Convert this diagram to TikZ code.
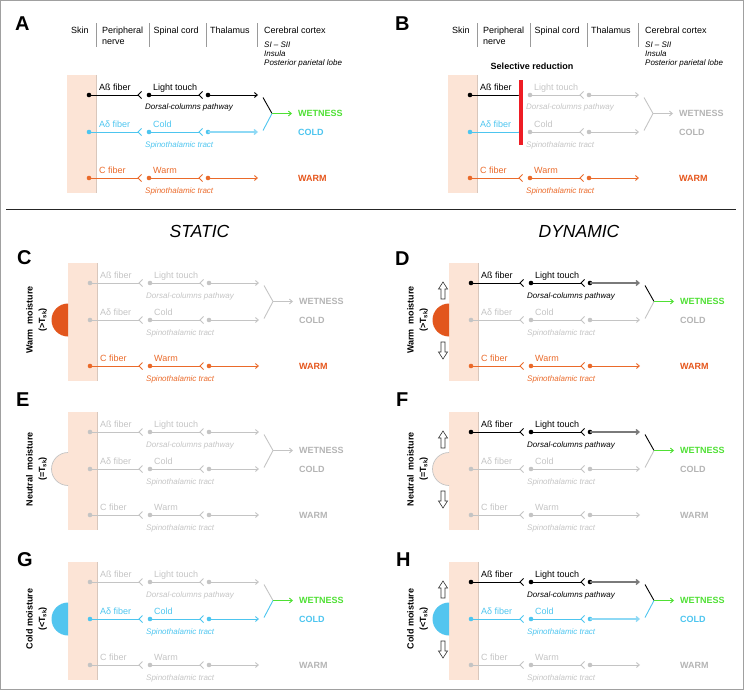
\documentclass[tikz,border=0pt]{standalone}
\usepackage{fontspec}
\setmainfont{Liberation Sans}
\usetikzlibrary{arrows.meta}
\definecolor{cyanC}{HTML}{4DC5EF}
\definecolor{cyanL}{HTML}{8ED9F5}
\definecolor{orangeC}{HTML}{EA6A2A}
\definecolor{orangeO}{HTML}{E5561C}
\definecolor{greyC}{HTML}{C4C4C4}
\definecolor{greyO}{HTML}{B4B4B4}
\definecolor{greenC}{HTML}{4FE034}
\definecolor{skinC}{HTML}{FCE4D6}
\definecolor{skinE}{HTML}{D9C7BC}
\definecolor{warmD}{HTML}{E2561D}
\definecolor{coldD}{HTML}{52C5EF}
\definecolor{barC}{HTML}{EE1C24}
\definecolor{frameC}{HTML}{A0A0A0}
\definecolor{dynG}{HTML}{7A7A7A}
\definecolor{sepC}{HTML}{9A9A9A}

\newcommand\fibrow[8]{%
  \coordinate (#1s1) at (138,#2);
  \coordinate (#1s2) at (199,#2);
  \coordinate (#1e) at (258,#2);
  \node[dot,fill=#3] (#1d0) at (89,#2) {};
  \node[dot,fill=#4] (#1d1) at (149,#2) {};
  \node[dot,fill=#4] (#1d2) at (208,#2) {};
  \draw[ln,draw=#3] (#1d0.center) -- (#1s1);
  \draw[ln,draw=#4] ([shift={(3.5,-3.5)}]#1s1) -- (#1s1) -- ([shift={(3.5,3.5)}]#1s1);
  \draw[ln,draw=#4] (#1d1.center) -- (#1s2);
  \draw[ln,draw=#4] ([shift={(3.5,-3.5)}]#1s2) -- (#1s2) -- ([shift={(3.5,3.5)}]#1s2);
  \draw[arr,draw=#4,#8] (#1d2.center) -- (#1e);
  \node[lab,text=#3] (#1lf) at (99,#2-4.8) {#5};
  \node[lab,text=#4] (#1lt) at (153,#2-4.8) {#6};
  \node[ital,text=#4] (#1lb) at (145,#2+15) {#7};
}

\newcommand\panel[3]{%
\begin{scope}[shift={(#2,#3)}]
  \fill[skinC] (67,-20) rectangle (96,98);
  \draw[skinE,line width=0.7] (96,-20) -- (96,98);
  \fibrow{#1a}{0}{FA}{PA}{Aß fiber}{Light touch}{Dorsal-columns pathway}{lastA}
  \fibrow{#1b}{37}{FB}{PB}{Aδ fiber}{Cold}{Spinothalamic tract}{lastB}
  \fibrow{#1c}{83}{FC}{PC}{C fiber}{Warm}{Spinothalamic tract}{}
  \coordinate (#1ca) at (263,2.5);
  \coordinate (#1cm) at (272,18.5);
  \coordinate (#1cb) at (263,35.5);
  \coordinate (#1ce) at (292,18.5);
  \draw[ln,draw=PA] (#1ca) -- (#1cm);
  \draw[ln,draw=PB] (#1cb) -- (#1cm);
  \draw[arr,draw=WC] (#1cm) -- (#1ce);
  \node[outl,text=OW] (#1ow) at (298,18.5+3.2) {WETNESS};
  \node[outl,text=OC] (#1oc) at (298,37+3.2) {COLD};
  \node[outl,text=OM] (#1om) at (298,83+3.2) {WARM};
\end{scope}}

\newcommand\header[2]{%
\begin{scope}[shift={(#2,0)}]
  \node[hd] (#1h1) at (71,34) {Skin};
  \node[hd] (#1h2) at (102,34) {Peripheral};
  \node[hd] (#1h3) at (102,44.3) {nerve};
  \node[hd] (#1h4) at (153.3,34) {Spinal cord};
  \node[hd] (#1h5) at (210,34) {Thalamus};
  \node[hd] (#1h6) at (264,34) {Cerebral cortex};
  \node[hdi] (#1h7) at (264,47.5) {SI – SII};
  \node[hdi] (#1h8) at (264,56.8) {Insula};
  \node[hdi] (#1h9) at (264,66) {Posterior parietal lobe};
  \foreach \sx in {96,149,206,257} \draw[sepC,line width=0.8] (\sx,23.3) -- (\sx,46.7);
\end{scope}}

\newcommand\drop[4]{%
  \path[fill=#3,draw=#4,line width=0.7] (#1,#2-16.5) arc[start angle=270,end angle=90,radius=16.5];}

\newcommand\blockup[3]{%
  \draw[barrow] (#1,#2) -- (#1+4.5,#2+7) -- (#1+2,#2+7) -- (#1+2,#3) -- (#1-2,#3) -- (#1-2,#2+7) -- (#1-4.5,#2+7) -- cycle;}
\newcommand\blockdown[3]{%
  \draw[barrow] (#1,#2) -- (#1+4.5,#2-7) -- (#1+2,#2-7) -- (#1+2,#3) -- (#1-2,#3) -- (#1-2,#2-7) -- (#1-4.5,#2-7) -- cycle;}

\newcommand\setcols[9]{%
  \colorlet{FA}{#1}\colorlet{PA}{#2}\colorlet{FB}{#3}\colorlet{PB}{#4}%
  \colorlet{FC}{#5}\colorlet{PC}{#6}\colorlet{WC}{#7}\colorlet{OW}{#8}\colorlet{OC}{#9}}

\begin{document}
\begin{tikzpicture}[x=1pt,y=-1pt,
  dot/.style={circle,inner sep=0pt,minimum size=4.6pt},
  ln/.style={line width=0.9pt},
  arr/.style={line width=0.9pt,-{Straight Barb[length=3pt,width=5pt]}},
  lab/.style={anchor=base west,inner sep=0pt,font=\fontsize{9}{10}\selectfont},
  ital/.style={anchor=base west,inner sep=0pt,font=\fontsize{8}{9}\selectfont\itshape},
  outl/.style={anchor=base west,inner sep=0pt,font=\fontsize{9}{10}\selectfont\bfseries},
  hd/.style={anchor=base west,inner sep=0pt,font=\fontsize{9}{10}\selectfont},
  hdi/.style={anchor=base west,inner sep=0pt,font=\fontsize{8}{9}\selectfont\itshape},
  letter/.style={anchor=base west,inner sep=0pt,font=\fontsize{20}{20}\selectfont\bfseries},
  title/.style={anchor=base,inner sep=0pt,font=\fontsize{17.5}{18}\selectfont\itshape},
  moist/.style={rotate=90,align=center,inner sep=0pt,font=\fontsize{9}{12.5}\selectfont\bfseries},
  barrow/.style={draw=black!80,line width=0.6pt,fill=white},
  lastA/.style={}, lastB/.style={}]
\useasboundingbox (0,0) rectangle (744,690);
\draw[frameC,line width=1pt] (0.5,0.5) rectangle (743.5,689.5);
\draw[black!85,line width=0.9pt] (6,209) -- (736,209);

% ---------- A ----------
\node[letter] (LA) at (15,31) {A};
\header{A}{0}
\setcols{black}{black}{cyanC}{cyanC}{orangeC}{orangeC}{greenC}{greenC}{cyanC}\colorlet{OM}{orangeO}
\tikzset{lastA/.style={},lastB/.style={draw=cyanL,line width=1.3pt}}
\panel{A}{0}{95}

% ---------- B ----------
\node[letter] (LB) at (395,31) {B};
\header{B}{381}
\node[anchor=base,inner sep=0pt,font=\fontsize{9}{10}\selectfont\bfseries] (Bsel) at (532,70) {Selective reduction};
\setcols{black}{greyC}{cyanC}{greyC}{orangeC}{orangeC}{greyC}{greyO}{greyO}\colorlet{OM}{orangeO}
\tikzset{lastA/.style={},lastB/.style={}}
\panel{B}{381}{95}
\node[fill=barC,inner sep=0pt,minimum width=4pt,minimum height=65pt] (Bbar) at (521,112.5) {};

% ---------- titles ----------
\node[title] (Tst) at (199.5,237) {STATIC};
\node[title] (Tdy) at (579,237) {DYNAMIC};

% ---------- C ----------
\node[letter] (LC) at (17,264) {C};
\setcols{greyC}{greyC}{greyC}{greyC}{orangeC}{orangeC}{greyC}{greyO}{greyO}\colorlet{OM}{orangeO}
\tikzset{lastA/.style={},lastB/.style={}}
\panel{C}{1}{283}
\drop{68}{320}{warmD}{none}
\node[moist] (Cm) at (36.5,320) {Warm\ \ moisture\\(>T\textsubscript{sk})};

% ---------- D ----------
\node[letter] (LD) at (395,265) {D};
\setcols{black}{black}{greyC}{greyC}{orangeC}{orangeC}{greenC}{greenC}{greyO}\colorlet{OM}{orangeO}
\tikzset{lastA/.style={draw=dynG,line width=1.3pt},lastB/.style={}}
\panel{D}{382}{283}
\drop{449}{320}{warmD}{none}
\blockup{443}{282}{299}
\blockdown{443}{359}{342}
\node[moist] (Dm) at (417.5,320) {Warm\ \ moisture\\(>T\textsubscript{sk})};

% ---------- E ----------
\node[letter] (LE) at (16,406) {E};
\setcols{greyC}{greyC}{greyC}{greyC}{greyC}{greyC}{greyC}{greyO}{greyO}\colorlet{OM}{greyO}
\tikzset{lastA/.style={},lastB/.style={}}
\panel{E}{1}{432}
\drop{68}{469}{skinC}{greyC}
\node[moist] (Em) at (36.5,469) {Neutral\ \ moisture\\(=T\textsubscript{sk})};

% ---------- F ----------
\node[letter] (LF) at (396,406) {F};
\setcols{black}{black}{greyC}{greyC}{greyC}{greyC}{greenC}{greenC}{greyO}\colorlet{OM}{greyO}
\tikzset{lastA/.style={draw=dynG,line width=1.3pt},lastB/.style={}}
\panel{F}{382}{432}
\drop{449}{469}{skinC}{greyC}
\blockup{443}{431}{448}
\blockdown{443}{508}{491}
\node[moist] (Fm) at (417.5,469) {Neutral\ \ moisture\\(=T\textsubscript{sk})};

% ---------- G ----------
\node[letter] (LG) at (17,566.5) {G};
\setcols{greyC}{greyC}{cyanC}{cyanC}{greyC}{greyC}{greenC}{greenC}{cyanC}\colorlet{OM}{greyO}
\tikzset{lastA/.style={},lastB/.style={}}
\panel{G}{1}{582}
\drop{68}{619}{coldD}{none}
\node[moist] (Gm) at (36.5,619) {Cold moisture\\(<T\textsubscript{sk})};

% ---------- H ----------
\node[letter] (LH) at (396,566) {H};
\setcols{black}{black}{cyanC}{cyanC}{greyC}{greyC}{greenC}{greenC}{cyanC}\colorlet{OM}{greyO}
\tikzset{lastA/.style={draw=dynG,line width=1.3pt},lastB/.style={draw=cyanL,line width=1.3pt}}
\panel{H}{382}{582}
\drop{449}{619}{coldD}{none}
\blockup{443}{581}{598}
\blockdown{443}{658}{641}
\node[moist] (Hm) at (417.5,619) {Cold moisture\\(<T\textsubscript{sk})};
\end{tikzpicture}
\end{document}
